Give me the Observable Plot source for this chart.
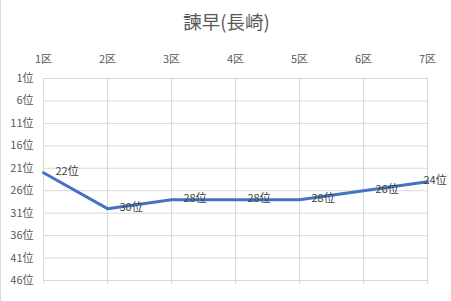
<!DOCTYPE html>
<html>
<head>
<meta charset="utf-8">
<script src="https://cdn.jsdelivr.net/npm/d3@7"></script>
<script src="https://cdn.jsdelivr.net/npm/@observablehq/plot@0.6"></script>
<style>
  body { margin: 0; background: #fff; }
  #chart { position: relative; width: 451px; height: 301px; }
  #chart::before { content: ""; position: absolute; left: 0; top: 0; width: 1px; height: 301px; background: #d9d9d9; }
</style>
</head>
<body>
<div id="chart"></div>
<script>
const title = "諫早(長崎)";
const sections = [1, 2, 3, 4, 5, 6, 7];
const sectionLabels = ["1区", "2区", "3区", "4区", "5区", "6区", "7区"];
const ranks = [22, 30, 28, 28, 28, 26, 24];
const rankTicks = [1, 6, 11, 16, 21, 26, 31, 36, 41, 46];

const data = sections.map((s, i) => ({ s, r: ranks[i], label: ranks[i] + "位", last: i === sections.length - 1 }));
const font = "'Noto Sans CJK JP', 'Noto Sans', sans-serif";

const plot = Plot.plot({
  width: 451,
  height: 301,
  marginLeft: 43,
  marginRight: 24,
  marginTop: 78,
  marginBottom: 21,
  style: { fontFamily: font, fontSize: "11px", color: "#595959", background: "transparent" },
  x: { domain: [1, 7] },
  y: { domain: [1, 46], reverse: true },
  marks: [
    Plot.gridX(sections, { stroke: "#d9d9d9", strokeOpacity: 1 }),
    Plot.gridY(rankTicks, { stroke: "#d9d9d9", strokeOpacity: 1 }),
    Plot.axisX(sections, { anchor: "top", tickSize: 0, tickPadding: 16, tickFormat: (d, i) => sectionLabels[i], fill: "#595959", fontSize: 11, label: null }),
    Plot.axisX(sections, { anchor: "bottom", tickSize: 4, stroke: "#d9d9d9", tickFormat: () => "", label: null }),
    Plot.axisY(rankTicks, { anchor: "left", tickSize: 0, tickPadding: 10, tickFormat: d => d + "位", fill: "#595959", fontSize: 11, label: null }),
    Plot.line(data, { x: "s", y: "r", stroke: "#4472C4", strokeWidth: 3 }),
    Plot.text(data.filter(d => !d.last), { x: "s", y: "r", text: "label", textAnchor: "start", dx: 12, dy: -1, fill: "#404040", fontSize: 11 }),
    Plot.text(data.filter(d => d.last), { x: "s", y: "r", text: "label", textAnchor: "start", dx: -4, dy: -1, fill: "#404040", fontSize: 11 }),
    Plot.text([title], { frameAnchor: "top", dx: -9, dy: -63, text: d => d, fill: "#595959", fontSize: 18.5 })
  ]
});
document.getElementById("chart").appendChild(plot);
</script>
</body>
</html>
